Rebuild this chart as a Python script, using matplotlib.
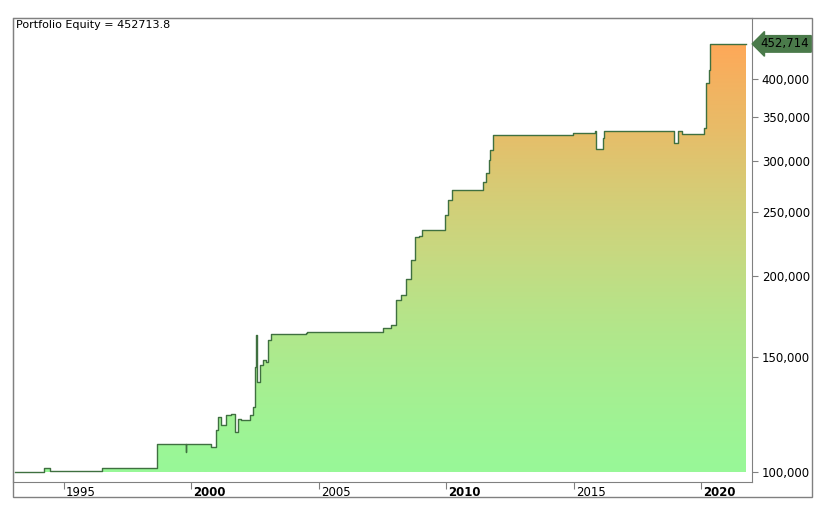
import matplotlib
matplotlib.use("Agg")
import matplotlib.pyplot as plt
import matplotlib.transforms as mtransforms
from matplotlib.colors import LinearSegmentedColormap
from matplotlib.ticker import FixedLocator, FuncFormatter
import numpy as np

# equity curve (decimal year, value)
years = [1993.07, 1994.21, 1994.45, 1994.53, 1996.51, 1998.64, 1998.76, 1999.78, 1999.80,
         2000.78, 2000.98, 2001.06, 2001.18, 2001.34, 2001.57, 2001.73, 2001.81, 2001.96,
         2002.30, 2002.42, 2002.50, 2002.54, 2002.58, 2002.70, 2002.81, 2002.93, 2003.01,
         2003.13, 2004.49, 2004.55, 2007.52, 2007.83, 2008.03, 2008.23, 2008.43, 2008.62,
         2008.78, 2008.94, 2009.06, 2009.96, 2010.08, 2010.24, 2011.46, 2011.58, 2011.66,
         2011.73, 2011.85, 2014.99, 2015.82, 2015.86, 2016.17, 2016.21, 2018.94, 2019.10,
         2019.25, 2020.10, 2020.18, 2020.33, 2020.37, 2021.77]
equity = [100000, 101420, 100300, 100400, 101600, 110380, 110380, 107500, 110380,
          109200, 115960, 121400, 118000, 122270, 122700, 115150, 120570, 120150,
          122270, 125700, 144800, 162000, 137300, 145800, 148400, 147400, 159300,
          162600, 163200, 163800, 166200, 168000, 183300, 186700, 197800, 211300,
          229000, 229800, 234800, 247600, 261000, 270400, 278300, 287500, 301100,
          311300, 328400, 330700, 333000, 312000, 324700, 333000, 318900, 333000,
          329600, 336700, 395000, 412500, 452714, 452714]
last_value = 452714
title = "Portfolio Equity = 452713.8"
y_ticks = [100000, 150000, 200000, 250000, 300000, 350000, 400000]
x_years = [1995, 2000, 2005, 2010, 2015, 2020]
bold_years = [2000, 2010, 2020]

W, H = 819, 508
fig = plt.figure(figsize=(W / 100, H / 100), dpi=100)
ax = fig.add_axes([13 / W, (H - 482) / H, (752 - 13) / W, (482 - 18) / H])

ymin, ymax = 96540, 496000
ax.set_yscale("log")
ax.set_ylim(ymin, ymax)
ax.set_xlim(1993.0, 2022.0)

# step line + gradient fill underneath
xs = np.repeat(years, 2)[1:]
ys = np.repeat(equity, 2)[:-1]
poly = ax.fill_between(xs, 100000, ys, color="none", lw=0)
cmap = LinearSegmentedColormap.from_list("eq", ["#98f898", "#c8d880", "#e8bc68", "#ffa858"])
grad = np.linspace(0, 1, 256).reshape(-1, 1)
img = ax.imshow(grad, cmap=cmap, aspect="auto", origin="lower",
                extent=[1993.0, 2022.0, 100000, last_value], zorder=1)
img.set_clip_path(poly.get_paths()[0], transform=ax.transData)
ax.set_ylim(ymin, ymax)
ax.set_xlim(1993.0, 2022.0)
ax.plot(xs, ys, color="#3f7040", lw=1.0, zorder=3)

for s in ax.spines.values():
    s.set_color("#808080")

# right axis
ax.yaxis.tick_right()
ax.yaxis.set_major_locator(FixedLocator(y_ticks))
ax.yaxis.set_minor_locator(FixedLocator([]))
ax.yaxis.set_major_formatter(FuncFormatter(lambda v, p: f"{int(v):,}"))
ax.tick_params(axis="y", direction="out", length=4, color="#808080", labelsize=8.5, pad=3)

# bottom axis: ticks only, labels drawn right of each tick
ax.set_xticks(x_years)
ax.set_xticklabels([])
ax.tick_params(axis="x", direction="out", length=5, color="#808080")
tr = mtransforms.blended_transform_factory(ax.transData, ax.transAxes)
for yr in x_years:
    ax.text(yr + 0.08, -0.008, str(yr), transform=tr, fontsize=8.5, va="top", ha="left",
            fontweight="bold" if yr in bold_years else "normal")

# outer frame (bottom band + right axis area)
fig.add_artist(plt.Rectangle((13 / W, (H - 497) / H), (812 - 13) / W, (497 - 18) / H,
                             transform=fig.transFigure, fill=False, ec="#808080", lw=1))

ax.text(0.004, 0.995, title, transform=ax.transAxes, fontsize=8, va="top", ha="left")

# last value marker
tr2 = mtransforms.blended_transform_factory(ax.transAxes, ax.transData)
ax.text(1.012, last_value, f"{last_value:,}", transform=tr2, fontsize=8.5, va="center",
        ha="left", bbox=dict(boxstyle="larrow,pad=0.15", fc="#4a7a4a", ec="#4a7a4a"),
        clip_on=False)

fig.savefig("out.png", dpi=100)
